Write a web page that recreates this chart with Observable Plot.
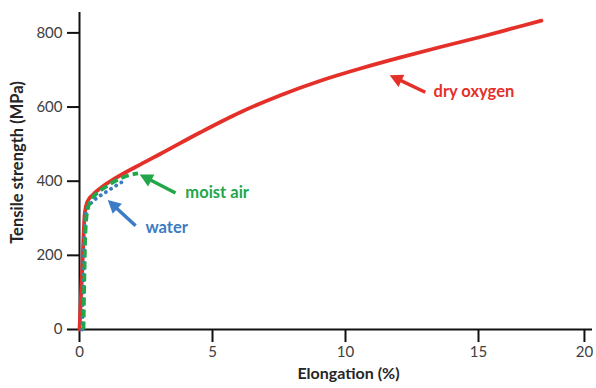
<!DOCTYPE html>
<html>
<head>
<meta charset="utf-8">
<script src="https://cdn.jsdelivr.net/npm/d3@7"></script>
<script src="https://cdn.jsdelivr.net/npm/@observablehq/plot@0.6"></script>
<style>
  html, body { margin: 0; padding: 0; background: #fff; }
</style>
</head>
<body>
<div id="chart"></div>
<script>
// Data
const dryX   = [0, 0.1, 0.2, 0.3, 0.5, 0.8, 1.35, 2.36, 3.05, 4.55, 6.05, 7.56, 9.06, 10.56, 12.07, 13.57, 15.09, 16.98, 17.97];
const dryY   = [0, 160, 315, 345, 363, 382, 408, 448, 474, 532, 586, 632, 671, 704, 734, 762, 789, 818, 833];
const moistX = [0.15, 0.18, 0.22, 0.3, 0.45, 0.7, 1.1, 1.5, 1.85, 2.2];
const moistY = [0, 130, 260, 322, 350, 370, 390, 406, 416, 421];
const waterX = [0.1, 0.15, 0.2, 0.28, 0.45, 0.7, 1.0, 1.35, 1.65];
const waterY = [0, 150, 280, 325, 342, 357, 371, 387, 400];

const seriesNames  = ["dry oxygen", "moist air", "water"];
const seriesColors = ["#e5302a", "#21a64a", "#3b7cc5"];
const arrowX1 = [13.0, 3.61, 2.11];
const arrowY1 = [640, 368, 280];
const arrowX2 = [11.83, 2.43, 1.20];
const arrowY2 = [680, 412, 340];
const labelX  = [13.31, 3.98, 2.48];
const labelY  = [640, 370, 274];

const xTicks = [0, 5, 10, 15, 20];
const yTicks = [0, 200, 400, 600, 800];
const xTitle = "Elongation (%)";
const yTitle = "Tensile strength (MPa)";

const toRows = (xs, ys) => xs.map((x, i) => ({x, y: ys[i]}));
const dry = toRows(dryX, dryY);
const moist = toRows(moistX, moistY);
const water = toRows(waterX, waterY);
const notes = seriesNames.map((name, i) => ({
  name, color: seriesColors[i],
  x1: arrowX1[i], y1: arrowY1[i], x2: arrowX2[i], y2: arrowY2[i],
  lx: labelX[i], ly: labelY[i]
}));

// The reference's axis is compressed past 15 (the 20 tick sits closer than a linear step)
const squeeze = 21.19 / 26.6;
const xWarp = (v) => (v <= 15 ? v : 15 + (v - 15) * squeeze);

// filled triangular arrow head
function triangleHead(color, context) {
  const ns = "http://www.w3.org/2000/svg";
  const m = context.document.createElementNS(ns, "marker");
  m.setAttribute("viewBox", "-10 -8 16 16");
  m.setAttribute("markerWidth", "16");
  m.setAttribute("markerHeight", "16");
  m.setAttribute("markerUnits", "userSpaceOnUse");
  m.setAttribute("orient", "auto");
  m.setAttribute("refX", "0");
  m.setAttribute("refY", "0");
  const p = context.document.createElementNS(ns, "path");
  p.setAttribute("d", "M5,0 L-8,-6.8 L-8,6.8 Z");
  p.setAttribute("fill", color);
  p.setAttribute("stroke", "none");
  m.appendChild(p);
  return m;
}

const font = "Lato, 'Open Sans', sans-serif";

const chart = Plot.plot({
  width: 596,
  height: 388,
  marginLeft: 79,
  marginRight: 4,
  marginTop: 12,
  marginBottom: 59,
  style: {fontFamily: font, fontSize: "15px", color: "#404040", background: "#fff"},
  x: {domain: [0, xWarp(20.38)], transform: xWarp},
  y: {domain: [0, 855]},
  marks: [
    Plot.axisY(yTicks, {tickSize: 12, tickPadding: 5, label: null, stroke: "#111", strokeWidth: 2, fill: "#404040", fontSize: 15}),
    Plot.axisX(xTicks, {tickSize: 13, tickPadding: 4, label: null, stroke: "#111", strokeWidth: 2, fill: "#404040", fontSize: 15}),
    Plot.ruleX([0], {stroke: "#111", strokeWidth: 2}),
    Plot.ruleY([0], {stroke: "#111", strokeWidth: 2}),
    Plot.line(dry, {x: "x", y: "y", stroke: seriesColors[0], strokeWidth: 3.8, curve: "monotone-x"}),
    Plot.line(water, {x: "x", y: "y", stroke: seriesColors[2], strokeWidth: 3.8, strokeDasharray: "0.1,6", strokeLinecap: "round", curve: "monotone-x"}),
    Plot.line(moist, {x: "x", y: "y", stroke: seriesColors[1], strokeWidth: 3.8, strokeDasharray: "8,4", strokeLinecap: "butt", curve: "monotone-x"}),
    Plot.link(notes, {x1: "x1", y1: "y1", x2: "x2", y2: "y2", stroke: "color", strokeWidth: 3.5, markerEnd: triangleHead}),
    Plot.text(notes, {x: "lx", y: "ly", text: "name", fill: "color", textAnchor: "start", fontWeight: "bold", fontSize: 16.5}),
    Plot.text([yTitle], {frameAnchor: "left", textAnchor: "middle", rotate: -90, dx: -62, dy: -8.5, fontWeight: "bold", fontSize: 16.5, fill: "#262626"}),
    Plot.text([xTitle], {frameAnchor: "bottom", textAnchor: "middle", dx: 12.5, dy: 49, fontWeight: "bold", fontSize: 16, fill: "#262626"})
  ]
});
document.getElementById("chart").appendChild(chart);
</script>
</body>
</html>
